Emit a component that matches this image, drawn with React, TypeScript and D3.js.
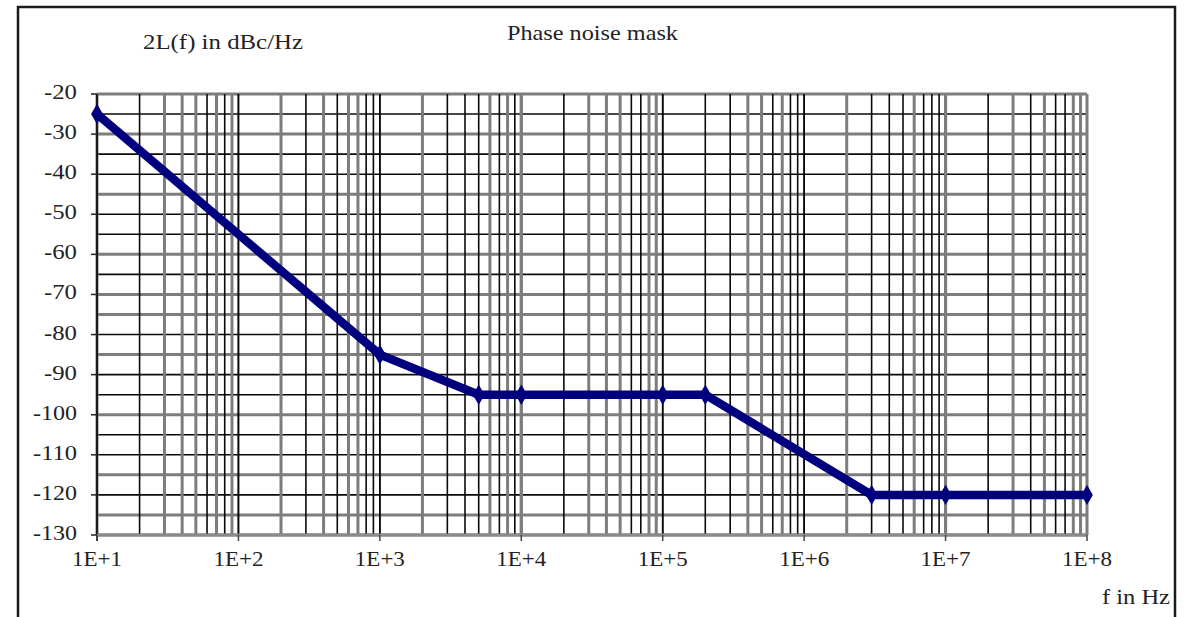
import React from "react";
import * as d3 from "d3";

const freqs = [10, 1000, 5000, 10000, 100000, 200000, 3e6, 1e7, 1e8];
const levels = [-25, -85, -95, -95, -95, -95, -120, -120, -120];
const yTickValues = [-20, -30, -40, -50, -60, -70, -80, -90, -100, -110, -120, -130];
const xDecades = [10, 100, 1000, 1e4, 1e5, 1e6, 1e7, 1e8];
const xTickLabels = ["1E+1", "1E+2", "1E+3", "1E+4", "1E+5", "1E+6", "1E+7", "1E+8"];
const title = "Phase noise mask";
const yTitle = "2L(f) in dBc/Hz";
const xTitle = "f in Hz";

const W = 1186;
const H = 617;
const FONT = '"Liberation Serif", "Times New Roman", Times, serif';

function gridStyle(p: number) {
  const u = p / 1.5;
  const f = u - Math.floor(u);
  const sharp = Math.abs(f - 0.5) > 0.22;
  return sharp ? { stroke: "#0a0a0a", w: 1.6 } : { stroke: "#7d7d7d", w: 3 };
}

export default function App() {
  const x = d3.scaleLog().domain([10, 1e8]).range([97, 1087]);
  const y = d3.scaleLinear().domain([-130, -20]).range([535, 94]);

  const vLines: number[] = [];
  for (let d = 10; d < 1e8; d *= 10) {
    for (let m = 1; m <= 10; m++) {
      const v = d * m;
      if (v > 1e8) continue;
      vLines.push(v);
    }
  }
  const hLines = d3.range(-130, -19, 5);

  const pts = freqs.map((f, i) => [x(f), y(levels[i])] as [number, number]);
  const line = d3.line<[number, number]>()(pts) || "";
  const diamond = d3.symbol().type(d3.symbolDiamond).size(120)() || "";

  const [x0, x1] = x.range();
  const [y0, y1] = y.range();
  const ts = { fontFamily: FONT };

  return (
    <svg
      width={W}
      height={H}
      style={{ position: "absolute", left: 0, top: 0, background: "#fff" }}
    >
      <rect x={0} y={0} width={W} height={H} fill="#fff" />
      <path d={`M18,700 L18,7 L1175,7 L1175,700`} fill="none" stroke="#1a1a1a" strokeWidth={2.5} />

      {hLines.map((v) => {
        const py = y(v);
        const s = gridStyle(py);
        return <line key={"h" + v} x1={x0} x2={x1} y1={py} y2={py} stroke={s.stroke} strokeWidth={s.w} />;
      })}
      {vLines.map((v, i) => {
        const px = x(v);
        const s = gridStyle(px);
        return <line key={"v" + i} x1={px} x2={px} y1={y1} y2={y0} stroke={s.stroke} strokeWidth={s.w} />;
      })}
      <line x1={x0} x2={x0} y1={y1} y2={y0 + 6} stroke="#111" strokeWidth={1.8} />
      <line x1={x0} x2={x1} y1={y0} y2={y0} stroke="#8a8a8a" strokeWidth={3} />
      {yTickValues.map((v) => (
        <line key={"yt" + v} x1={x0 - 6} x2={x0} y1={y(v)} y2={y(v)} stroke="#222" strokeWidth={1.5} />
      ))}
      {xDecades.map((v) => (
        <line key={"xt" + v} x1={x(v)} x2={x(v)} y1={y0} y2={y0 + 6} stroke="#444" strokeWidth={1.5} />
      ))}

      <path d={line} fill="none" stroke="#00007f" strokeWidth={8.5} strokeLinejoin="miter" />
      {pts.map((p, i) => (
        <path key={"m" + i} d={diamond} transform={`translate(${p[0]},${p[1]})`} fill="#00007f" />
      ))}

      {yTickValues.map((v) => (
        <text key={"yl" + v} x={77} y={y(v) + 5} textAnchor="end" fontSize={21} fill="#222" style={ts}
          textLength={String(v).length === 4 ? 44 : 33} lengthAdjust="spacingAndGlyphs">
          {String(v)}
        </text>
      ))}
      {xDecades.map((v, i) => (
        <text key={"xl" + v} x={x(v)} y={566} textAnchor="middle" fontSize={21} fill="#222" style={ts}
          textLength={50} lengthAdjust="spacingAndGlyphs">
          {xTickLabels[i]}
        </text>
      ))}
      <text x={507} y={40} fontSize={21} fill="#222" style={ts} textLength={171} lengthAdjust="spacingAndGlyphs">
        {title}
      </text>
      <text x={143} y={49} fontSize={21} fill="#222" style={ts} textLength={160} lengthAdjust="spacingAndGlyphs">
        {yTitle}
      </text>
      <text x={1102} y={604} fontSize={21} fill="#222" style={ts} textLength={68} lengthAdjust="spacingAndGlyphs">
        {xTitle}
      </text>
    </svg>
  );
}
